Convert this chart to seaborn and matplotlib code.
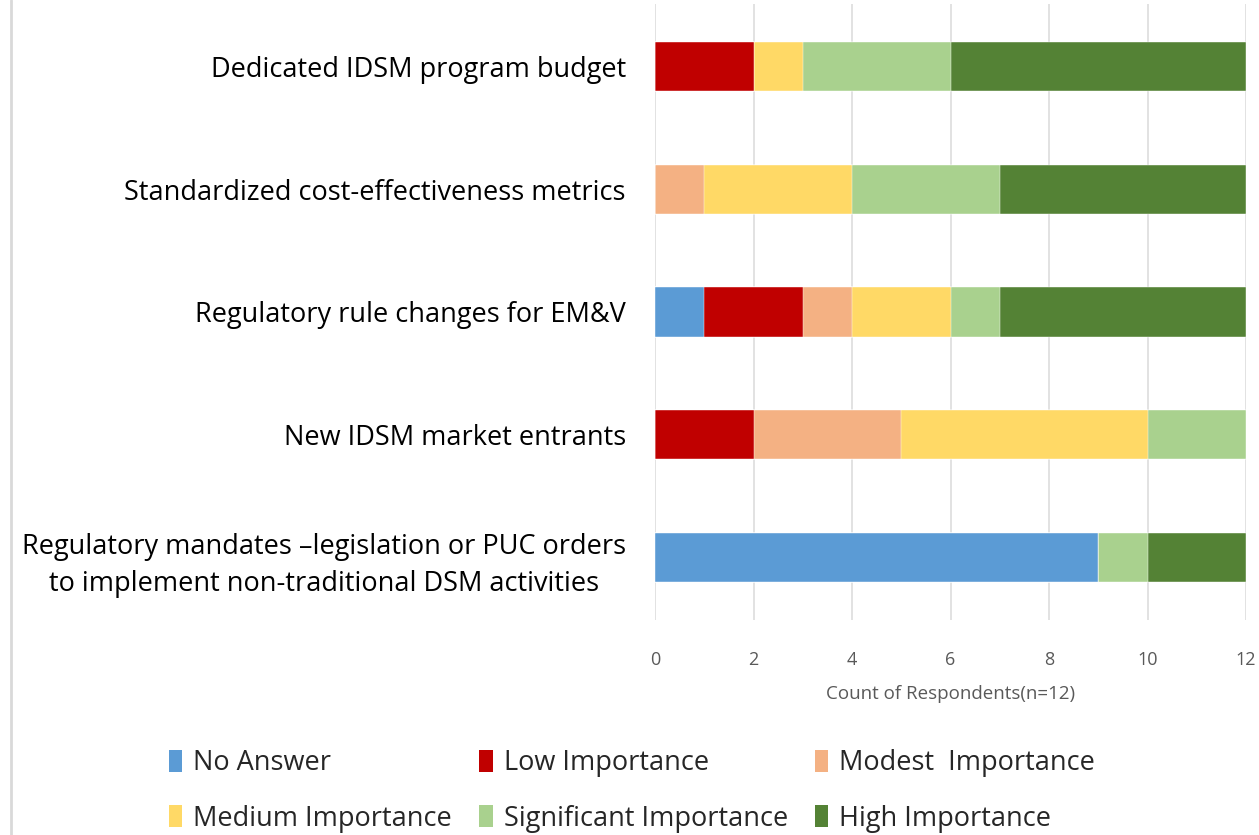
import matplotlib
matplotlib.use("Agg")
import matplotlib.pyplot as plt
import seaborn as sns
import numpy as np
import pandas as pd
from matplotlib.patches import Patch
from matplotlib.lines import Line2D

categories = [
    "Dedicated IDSM program budget",
    "Standardized cost-effectiveness metrics",
    "Regulatory rule changes for EM&V",
    "New IDSM market entrants",
    "Regulatory mandates \u2013legislation or PUC orders\nto implement non-traditional DSM activities",
]
series_names = ["No Answer", "Low Importance", "Modest  Importance",
                "Medium Importance", "Significant Importance", "High Importance"]
no_answer   = [0, 0, 1, 0, 9]
low         = [2, 0, 2, 2, 0]
modest      = [0, 1, 1, 3, 0]
medium      = [1, 3, 2, 5, 0]
significant = [3, 3, 1, 2, 1]
high        = [6, 5, 5, 0, 2]
colors = ["#5B9BD5", "#C00000", "#F4B183", "#FFD966", "#A9D18E", "#548235"]
xticks = [0, 2, 4, 6, 8, 10, 12]
xlabel = "Count of Respondents(n=12)"

sns.set_theme(style="white")
plt.rcParams["font.family"] = ["Open Sans", "DejaVu Sans"]

values = np.array([no_answer, low, modest, medium, significant, high], dtype=float)
cum = np.cumsum(values, axis=0)

fig = plt.figure(figsize=(12.59, 8.35), dpi=100)
ax = fig.add_axes([655/1259, 1-620/835, 591/1259, 616/835])

for i in reversed(range(len(series_names))):
    df = pd.DataFrame({"cat": categories, "val": cum[i]})
    sns.barplot(data=df, x="val", y="cat", orient="h", color=colors[i],
                width=0.4, ax=ax, saturation=1, edgecolor="white", linewidth=0.3,
                zorder=3)

ax.set_xlim(0, 12)
ax.set_ylim(4.51, -0.51)
ax.set_xticks(xticks)
ax.set_xticklabels([str(t) for t in xticks])
ax.xaxis.grid(True, color="#DDDDDD", linewidth=1.2, zorder=0)
ax.set_axisbelow(True)
for s in ax.spines.values():
    s.set_visible(False)
ax.tick_params(axis="x", length=0, labelsize=13, labelcolor="#595959", pad=22)
ax.tick_params(axis="y", length=0, labelsize=19.5, labelcolor="#000000", pad=21)
for lab in ax.get_yticklabels():
    lab.set_horizontalalignment("right")
    lab.set_multialignment("center")
    lab.set_linespacing(1.45)
ax.set_xlabel(xlabel, fontsize=13.5, color="#595959", labelpad=12)
ax.set_ylabel("")

# light outer border line on the left
fig.add_artist(Line2D([11/1259, 11/1259], [0, 1], transform=fig.transFigure,
                      color="#D9D9D9", linewidth=2))

order = [0, 3, 1, 4, 2, 5]
handles = [Patch(facecolor=colors[i], edgecolor="none") for i in order]
labels = [series_names[i] for i in order]
fig.legend(handles, labels, loc="center", bbox_to_anchor=(0.502, 1-791/835),
           ncol=3, frameon=False, fontsize=19.5, handlelength=0.5,
           handleheight=0.9, handletextpad=0.4, columnspacing=1.0,
           labelspacing=1.0)

fig.savefig("out.png", dpi=100)
